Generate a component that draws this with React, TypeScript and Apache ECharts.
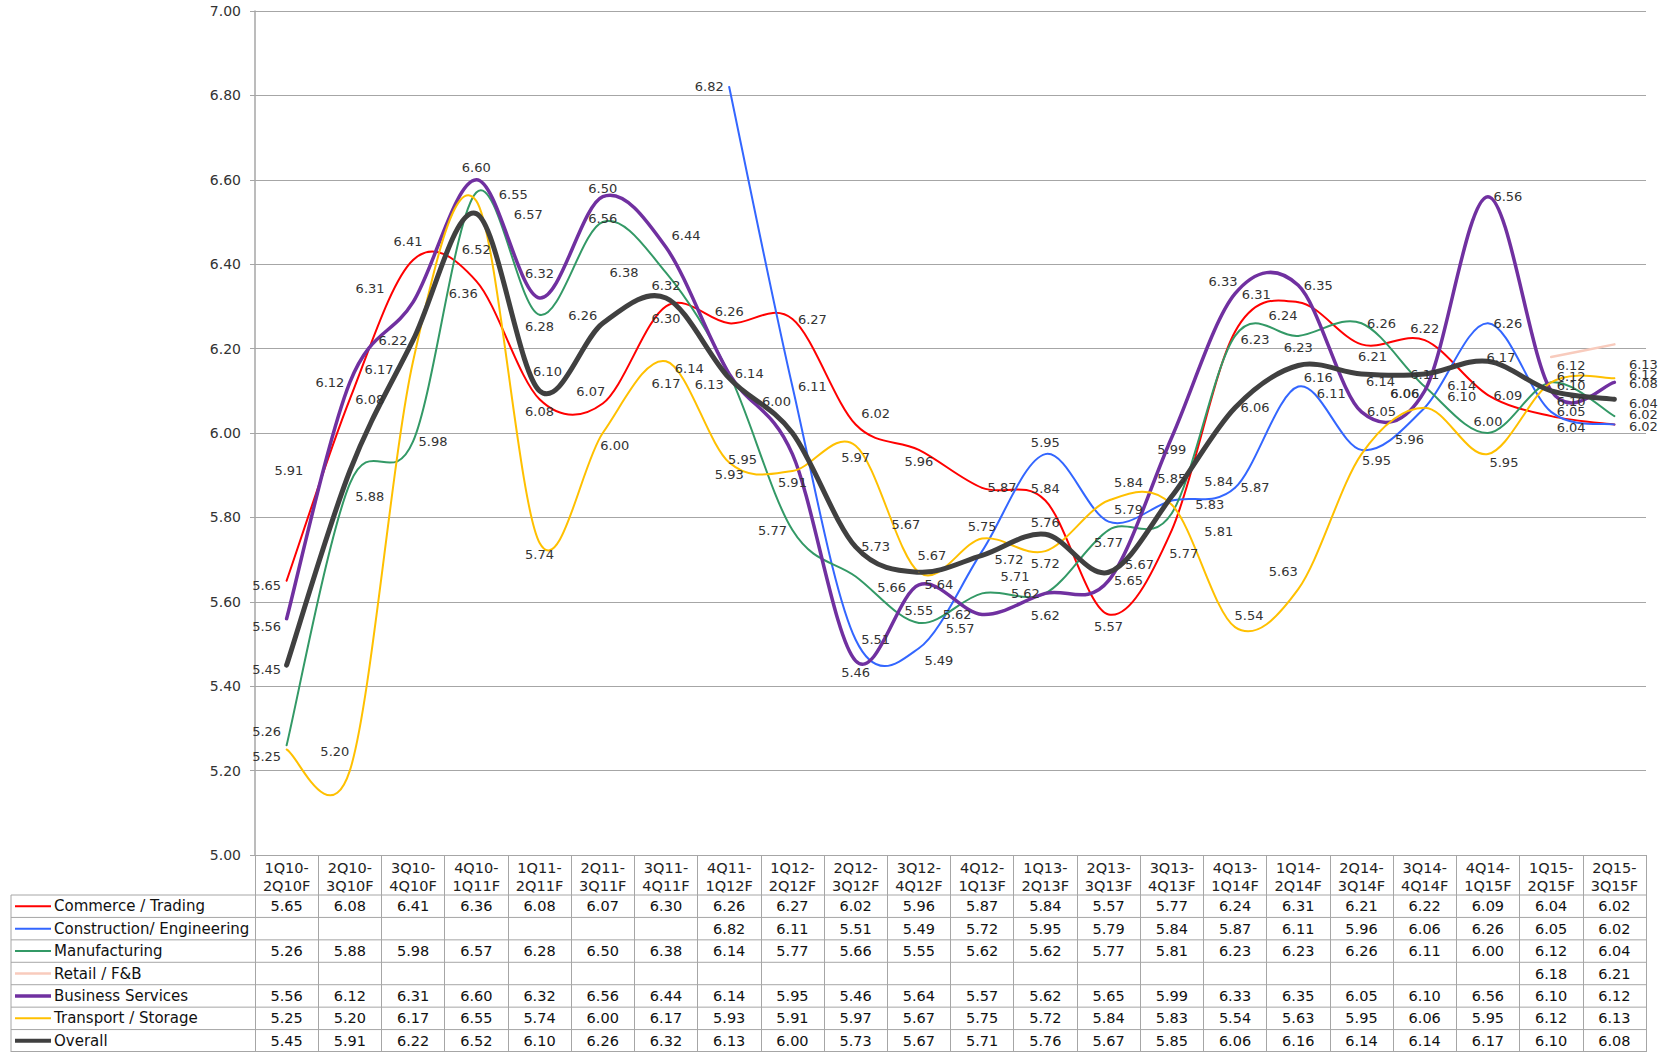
import React, { useEffect, useRef } from "react";
import * as echarts from "echarts";

const categories = [
  "1Q10-\n2Q10F", "2Q10-\n3Q10F", "3Q10-\n4Q10F", "4Q10-\n1Q11F", "1Q11-\n2Q11F", "2Q11-\n3Q11F",
  "3Q11-\n4Q11F", "4Q11-\n1Q12F", "1Q12-\n2Q12F", "2Q12-\n3Q12F", "3Q12-\n4Q12F", "4Q12-\n1Q13F",
  "1Q13-\n2Q13F", "2Q13-\n3Q13F", "3Q13-\n4Q13F", "4Q13-\n1Q14F", "1Q14-\n2Q14F", "2Q14-\n3Q14F",
  "3Q14-\n4Q14F", "4Q14-\n1Q15F", "1Q15-\n2Q15F", "2Q15-\n3Q15F",
];

const yTicks = [5.0, 5.2, 5.4, 5.6, 5.8, 6.0, 6.2, 6.4, 6.6, 6.8, 7.0];

const commerce = [5.65, 6.08, 6.41, 6.36, 6.08, 6.07, 6.30, 6.26, 6.27, 6.02, 5.96, 5.87, 5.84, 5.57, 5.77, 6.24, 6.31, 6.21, 6.22, 6.09, 6.04, 6.02];
const construction = [null, null, null, null, null, null, null, 6.82, 6.11, 5.51, 5.49, 5.72, 5.95, 5.79, 5.84, 5.87, 6.11, 5.96, 6.06, 6.26, 6.05, 6.02];
const manufacturing = [5.26, 5.88, 5.98, 6.57, 6.28, 6.50, 6.38, 6.14, 5.77, 5.66, 5.55, 5.62, 5.62, 5.77, 5.81, 6.23, 6.23, 6.26, 6.11, 6.00, 6.12, 6.04];
const retail = [null, null, null, null, null, null, null, null, null, null, null, null, null, null, null, null, null, null, null, null, 6.18, 6.21];
const business = [5.56, 6.12, 6.31, 6.60, 6.32, 6.56, 6.44, 6.14, 5.95, 5.46, 5.64, 5.57, 5.62, 5.65, 5.99, 6.33, 6.35, 6.05, 6.10, 6.56, 6.10, 6.12];
const transport = [5.25, 5.20, 6.17, 6.55, 5.74, 6.00, 6.17, 5.93, 5.91, 5.97, 5.67, 5.75, 5.72, 5.84, 5.83, 5.54, 5.63, 5.95, 6.06, 5.95, 6.12, 6.13];
const overall = [5.45, 5.91, 6.22, 6.52, 6.10, 6.26, 6.32, 6.13, 6.00, 5.73, 5.67, 5.71, 5.76, 5.67, 5.85, 6.06, 6.16, 6.14, 6.14, 6.17, 6.10, 6.08];

// label placement (styling only), one letter per point: l/r/t/b
const commercePos = "lrtbbtbtrrbrtbbrlbtrrr";
const constructionPos = "-------lrrrrtrrrrrlrrr";
const manufacturingPos = "lrrrbtlllrtllbrrbrttrr";
const businessPos = "lllttbrrlbrbbrbtrrrrrr";
const transportPos = "ltlrbbbbbbttbrrttblbrr";
const overallPos = "lllbtltltrtrtrtrrbrtrr";

// fine label nudges (styling only), point index -> [dx, dy] in px
type Off = Record<number, [number, number]>;
const commerceOff: Off = { 0: [0, 5], 2: [-5, -6], 3: [-13, 0], 5: [-12, 0], 9: [0, -11], 14: [12, 11], 15: [28, -16], 16: [-22, -8], 17: [11, 0], 20: [0, 11], 21: [9, 2] };
const constructionOff: Off = { 10: [0, 12], 11: [7, 8], 13: [0, -12], 14: [27, -19], 16: [13, 7], 17: [28, -10], 18: [0, -14], 21: [9, -10] };
const manufacturingOff: Off = { 0: [0, -14], 1: [0, 13], 3: [32, 22], 5: [0, -22], 6: [-22, 0], 7: [-20, -5], 9: [16, 11], 11: [-5, 21], 14: [27, 18], 15: [0, 4], 20: [0, -17], 21: [9, -13] };
const businessOff: Off = { 0: [0, 8], 2: [-23, -14], 4: [0, -12], 5: [0, 10], 6: [0, -12], 8: [-30, 5], 11: [-22, 2], 12: [0, 10], 15: [-12, 0], 18: [17, 6], 20: [0, -5], 21: [9, -8] };
const transportOff: Off = { 0: [0, 7], 1: [-15, -7], 2: [-14, 8], 3: [17, -6], 5: [12, 0], 6: [0, 10], 10: [13, -5], 13: [0, -18], 14: [18, 0], 15: [14, 0], 16: [-15, -6], 17: [15, -6], 18: [0, -14], 19: [16, -4], 20: [0, -6], 21: [9, -14] };
const overallOff: Off = { 0: [0, 4], 1: [-41, 0], 3: [0, 24], 4: [8, -7], 5: [0, -8], 7: [0, 6], 8: [-16, -20], 10: [-13, -36], 11: [13, 21], 13: [11, -8], 14: [0, -6], 16: [0, 12], 17: [19, -4], 18: [17, 12], 19: [13, 8], 20: [0, 11], 21: [9, -16] };

const POS: Record<string, string> = { l: "left", r: "right", t: "top", b: "bottom" };

const FONT = "DejaVu Sans";

// layout
const W = 1665;
const H = 1052;
const GRID_LEFT = 255;
const GRID_RIGHT_X = 1646;
const GRID_TOP = 11;
const AXIS_Y = 855;
const TABLE_TOP = 895;
const TABLE_LEFT = 11;
const ROW_H = (H - TABLE_TOP) / 7;

type S = { name: string; data: (number | null)[]; color: string; width: number; pos: string | null; off: Off };

const seriesDefs: S[] = [
  { name: "Commerce / Trading", data: commerce, color: "#ff0000", width: 2, pos: commercePos, off: commerceOff },
  { name: "Construction/ Engineering", data: construction, color: "#3366ff", width: 2, pos: constructionPos, off: constructionOff },
  { name: "Manufacturing", data: manufacturing, color: "#339966", width: 2, pos: manufacturingPos, off: manufacturingOff },
  { name: "Retail / F&B", data: retail, color: "#f8cbbd", width: 2.5, pos: null, off: {} },
  { name: "Business Services", data: business, color: "#7030a0", width: 3.5, pos: businessPos, off: businessOff },
  { name: "Transport / Storage", data: transport, color: "#ffc000", width: 2, pos: transportPos, off: transportOff },
  { name: "Overall", data: overall, color: "#404040", width: 5, pos: overallPos, off: overallOff },
];

// Excel-like (Catmull-Rom) smoothed curve through the points, via the axes' own scales
function curveSeries(s: S, si: number) {
  return {
    type: "custom",
    name: s.name + " curve",
    coordinateSystem: "cartesian2d",
    data: [[0, 6]],
    encode: { x: 0, y: 1 },
    z: 2 + si,
    silent: true,
    clip: false,
    renderItem: (_params: any, api: any) => {
      const segs: number[][][] = [];
      let cur: number[][] = [];
      s.data.forEach((v, i) => {
        if (v == null) {
          if (cur.length) segs.push(cur);
          cur = [];
        } else cur.push(api.coord([i, v]));
      });
      if (cur.length) segs.push(cur);
      let d = "";
      segs.forEach((p) => {
        d += `M${p[0][0]},${p[0][1]}`;
        for (let i = 0; i < p.length - 1; i++) {
          const p0 = p[i - 1] || p[i];
          const p1 = p[i];
          const p2 = p[i + 1];
          const p3 = p[i + 2] || p[i + 1];
          const c1x = p1[0] + (p2[0] - p0[0]) / 6;
          const c1y = p1[1] + (p2[1] - p0[1]) / 6;
          const c2x = p2[0] - (p3[0] - p1[0]) / 6;
          const c2y = p2[1] - (p3[1] - p1[1]) / 6;
          d += ` C${c1x},${c1y} ${c2x},${c2y} ${p2[0]},${p2[1]}`;
        }
      });
      return {
        type: "path",
        shape: { pathData: d },
        style: { fill: "none", stroke: s.color, lineWidth: s.width, lineJoin: "round", lineCap: "round" },
      };
    },
  };
}

export default function App() {
  const ref = useRef<HTMLDivElement>(null);
  useEffect(() => {
    document.body.style.margin = "0";
    const chart = echarts.init(ref.current!, null, { renderer: "svg" });
    const labelSeries = seriesDefs
      .filter((s) => s.pos)
      .map((s) => ({
        name: s.name,
        type: "line",
        symbol: "circle",
        symbolSize: 1,
        showSymbol: true,
        z: 20,
        lineStyle: { opacity: 0 },
        itemStyle: { color: s.color },
        emphasis: { disabled: true },
        silent: true,
        data: s.data.map((v, i) =>
          v == null
            ? null
            : {
                value: v,
                label: { position: POS[s.pos![i]] || "top", offset: s.off[i] || [0, 0] },
              }
        ),
        label: {
          show: true,
          formatter: (p: any) => Number(p.value).toFixed(2),
          fontSize: 13,
          fontFamily: FONT,
          color: "#333333",
          distance: 5,
        },
      }));

    chart.setOption({
      animation: false,
      grid: { left: GRID_LEFT, right: W - GRID_RIGHT_X, top: GRID_TOP, bottom: H - AXIS_Y, containLabel: false },
      xAxis: {
        type: "category",
        data: categories,
        boundaryGap: true,
        axisLine: { show: true, lineStyle: { color: "#a6a6a6", width: 1 } },
        axisTick: { show: true, interval: 0, length: H - AXIS_Y, lineStyle: { color: "#a6a6a6" } },
        axisLabel: { interval: 0, fontSize: 14.5, lineHeight: 18, margin: 4, color: "#222222", fontFamily: FONT },
        splitLine: { show: false },
      },
      yAxis: {
        type: "value",
        min: yTicks[0],
        max: yTicks[yTicks.length - 1],
        interval: 0.2,
        axisLine: { show: true, lineStyle: { color: "#a6a6a6", width: 1.5 } },
        axisTick: { show: true, length: 5, lineStyle: { color: "#a6a6a6" } },
        axisLabel: { formatter: (v: number) => v.toFixed(2), fontSize: 14, color: "#333333", fontFamily: FONT, margin: 14 },
        splitLine: { show: true, lineStyle: { color: "#a6a6a6", width: 1.2 } },
      },
      series: [...seriesDefs.map((s, i) => curveSeries(s, i)), ...labelSeries],
    });

    const xs = categories.map((_, i) => chart.convertToPixel({ xAxisIndex: 0 }, i) as number);
    const els: any[] = [];
    for (let k = 0; k <= 7; k++) {
      const y = Math.min(TABLE_TOP + k * ROW_H, H - 0.5);
      els.push({ type: "line", shape: { x1: TABLE_LEFT, y1: y, x2: GRID_RIGHT_X, y2: y }, style: { stroke: "#a6a6a6", lineWidth: 1 }, silent: true });
    }
    els.push({ type: "line", shape: { x1: TABLE_LEFT, y1: TABLE_TOP, x2: TABLE_LEFT, y2: H }, style: { stroke: "#a6a6a6", lineWidth: 1 }, silent: true });
    seriesDefs.forEach((s, r) => {
      const cy = TABLE_TOP + (r + 0.5) * ROW_H;
      els.push({ type: "line", shape: { x1: 15, y1: cy, x2: 51, y2: cy }, style: { stroke: s.color, lineWidth: Math.min(s.width, 4) }, silent: true });
      els.push({ type: "text", x: 54, y: cy, style: { text: s.name, font: `15px "${FONT}"`, fill: "#111111", verticalAlign: "middle", align: "left" }, silent: true });
      s.data.forEach((v, i) => {
        if (v == null) return;
        els.push({ type: "text", x: xs[i], y: cy, style: { text: v.toFixed(2), font: `14.5px "${FONT}"`, fill: "#111111", verticalAlign: "middle", align: "center" }, silent: true });
      });
    });
    chart.setOption({ graphic: { elements: els } });

    return () => chart.dispose();
  }, []);
  return <div ref={ref} style={{ position: "absolute", left: 0, top: 0, width: W, height: H }} />;
}
